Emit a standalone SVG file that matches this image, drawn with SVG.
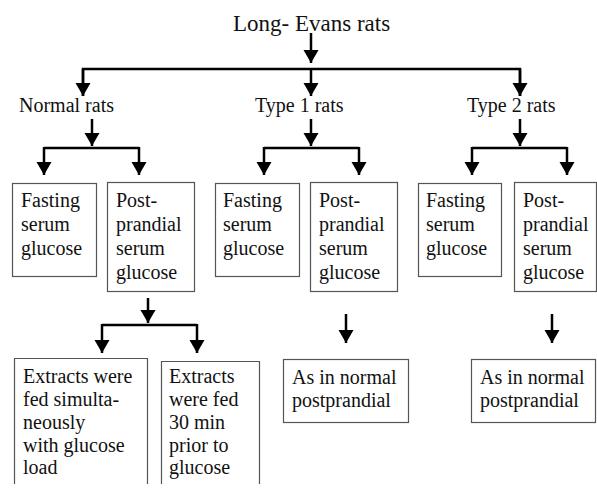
<svg xmlns="http://www.w3.org/2000/svg" width="597" height="491" viewBox="0 0 597 491">
<defs>
<marker id="ah" markerUnits="userSpaceOnUse" markerWidth="14" markerHeight="16" refX="13" refY="7.5" orient="auto">
<path d="M0,0 L13,7.5 L0,15 z" fill="#000"/>
</marker>
<style>
text{font-family:"Liberation Serif","Times New Roman",serif;font-size:20px;fill:#111}
.title{font-size:23px}
.box{fill:#fff;stroke:#555;stroke-width:1.2}
.c{stroke:#000;stroke-width:2.5;fill:none}
.a{stroke:#000;stroke-width:2.5;fill:none;marker-end:url(#ah)}
</style>
</defs>
<rect width="597" height="491" fill="#fff"/>
<g id="connectors">
<line class="a" x1="311" y1="33" x2="311" y2="63"/>
<polyline class="c" points="83,96 83,69 520,69 520,96"/>
<line class="a" x1="83" y1="69" x2="83" y2="96"/>
<line class="a" x1="311" y1="69" x2="311" y2="96"/>
<line class="a" x1="520" y1="69" x2="520" y2="96"/>
<line class="a" x1="92" y1="119" x2="92" y2="146"/>
<line class="c" x1="44" y1="148" x2="139" y2="148"/>
<line class="a" x1="44" y1="147" x2="44" y2="175"/>
<line class="a" x1="139" y1="147" x2="139" y2="175"/>
<line class="a" x1="311" y1="119" x2="311" y2="146"/>
<line class="c" x1="264" y1="148" x2="359" y2="148"/>
<line class="a" x1="264" y1="147" x2="264" y2="175"/>
<line class="a" x1="359" y1="147" x2="359" y2="175"/>
<line class="a" x1="520" y1="119" x2="520" y2="146"/>
<line class="c" x1="472" y1="148" x2="567" y2="148"/>
<line class="a" x1="472" y1="147" x2="472" y2="175"/>
<line class="a" x1="567" y1="147" x2="567" y2="175"/>
<line class="a" x1="148" y1="298" x2="148" y2="323"/>
<line class="c" x1="102" y1="325" x2="197" y2="325"/>
<line class="a" x1="102" y1="324" x2="102" y2="353"/>
<line class="a" x1="197" y1="324" x2="197" y2="353"/>
<line class="a" x1="346" y1="314" x2="346" y2="343"/>
<line class="a" x1="552" y1="314" x2="552" y2="343"/>
</g>
<g id="title"><text class="title" x="233" y="31">Long- Evans rats</text></g>
<g id="normal"><text x="19" y="112">Normal rats</text></g>
<g id="type1"><text x="255" y="112">Type 1 rats</text></g>
<g id="type2"><text x="467" y="112">Type 2 rats</text></g>
<g id="n-fast">
<rect class="box" x="12.5" y="183.5" width="84" height="93"/>
<text x="21" y="207">Fasting</text><text x="21" y="231">serum</text><text x="21" y="255">glucose</text>
</g>
<g id="n-post">
<rect class="box" x="107.5" y="182.5" width="87" height="109"/>
<text x="116" y="207">Post-</text><text x="116" y="231">prandial</text><text x="116" y="255">serum</text><text x="116" y="279">glucose</text>
</g>
<g id="t1-fast">
<rect class="box" x="215.5" y="183.5" width="84" height="93"/>
<text x="223" y="207">Fasting</text><text x="223" y="231">serum</text><text x="223" y="255">glucose</text>
</g>
<g id="t1-post">
<rect class="box" x="310.5" y="182.5" width="87" height="109"/>
<text x="319" y="207">Post-</text><text x="319" y="231">prandial</text><text x="319" y="255">serum</text><text x="319" y="279">glucose</text>
</g>
<g id="t2-fast">
<rect class="box" x="418.5" y="183.5" width="83" height="93"/>
<text x="426" y="207">Fasting</text><text x="426" y="231">serum</text><text x="426" y="255">glucose</text>
</g>
<g id="t2-post">
<rect class="box" x="514.5" y="182.5" width="82" height="109"/>
<text x="523" y="207">Post-</text><text x="523" y="231">prandial</text><text x="523" y="255">serum</text><text x="523" y="279">glucose</text>
</g>
<g id="n-simul">
<path class="box" d="M14.5,484 V358.5 H147.5 V484"/>
<text x="23" y="383">Extracts were</text><text x="23" y="406">fed simulta-</text><text x="23" y="429">neously</text><text x="23" y="452">with glucose</text><text x="23" y="474">load</text>
</g>
<g id="n-prior">
<path class="box" d="M161.5,484 V361.5 H259.5 V484"/>
<text x="169" y="383">Extracts</text><text x="169" y="406">were fed</text><text x="169" y="429">30 min</text><text x="169" y="452">prior  to</text><text x="169" y="474">glucose</text>
</g>
<g id="t1-as">
<rect class="box" x="283.5" y="359.5" width="125" height="63"/>
<text x="292" y="384">As in normal</text><text x="292" y="407">postprandial</text>
</g>
<g id="t2-as">
<rect class="box" x="471.5" y="359.5" width="124" height="63"/>
<text x="480" y="384">As in normal</text><text x="480" y="407">postprandial</text>
</g>
</svg>
